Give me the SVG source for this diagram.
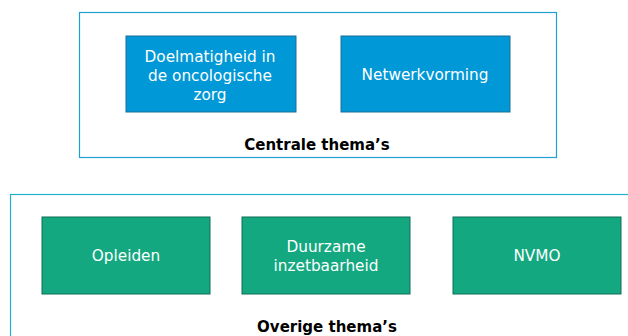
<svg xmlns="http://www.w3.org/2000/svg" width="628" height="336" viewBox="0 0 628 336">
  <style>
    .frame { fill: #ffffff; stroke: #1ea0d4; stroke-width: 1.2; }
    .frame2 { fill: #ffffff; stroke: #22b0cc; stroke-width: 1.2; }
    .blue { fill: #0098d6; stroke: #1b6f98; stroke-width: 1; }
    .green { fill: #13a880; stroke: #0f6e56; stroke-width: 1; }
    .lbl { font-family: "DejaVu Sans", Verdana, sans-serif; font-size: 15.3px; fill: #ffffff; text-anchor: middle; }
    .title { font-family: "DejaVu Sans", Verdana, sans-serif; font-size: 15px; font-weight: bold; fill: #000000; text-anchor: middle; }
  </style>
  <rect width="628" height="336" fill="#ffffff"/>

  <g id="centrale">
    <rect class="frame" x="79.5" y="12.5" width="477" height="145"/>
    <text class="title" x="317" y="150">Centrale thema’s</text>
  </g>
  <g id="doelmatigheid">
    <rect class="blue" x="126" y="36" width="170" height="76"/>
    <text class="lbl" x="210" y="62">Doelmatigheid in</text>
    <text class="lbl" x="210" y="81">de oncologische</text>
    <text class="lbl" x="210" y="100">zorg</text>
  </g>
  <g id="netwerkvorming">
    <rect class="blue" x="341" y="36" width="169" height="76"/>
    <text class="lbl" x="425" y="80">Netwerkvorming</text>
  </g>

  <g id="overige">
    <rect class="frame2" x="10.5" y="194.5" width="630" height="160"/>
    <text class="title" x="327" y="332">Overige thema’s</text>
  </g>
  <g id="opleiden">
    <rect class="green" x="42" y="217" width="168" height="77"/>
    <text class="lbl" x="126" y="261">Opleiden</text>
  </g>
  <g id="duurzame">
    <rect class="green" x="242" y="217" width="168" height="77"/>
    <text class="lbl" x="326" y="252">Duurzame</text>
    <text class="lbl" x="326" y="271">inzetbaarheid</text>
  </g>
  <g id="nvmo">
    <rect class="green" x="453" y="217" width="168" height="77"/>
    <text class="lbl" x="537" y="261">NVMO</text>
  </g>

  <g id="connectors"/>
</svg>
